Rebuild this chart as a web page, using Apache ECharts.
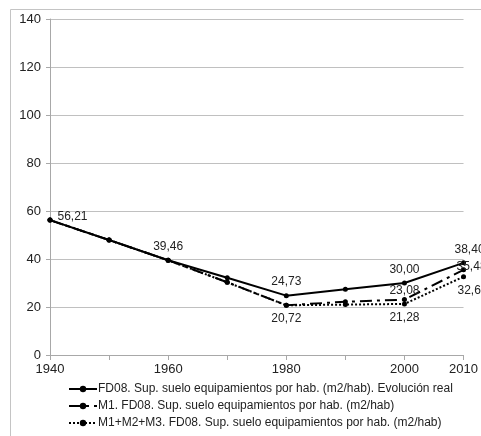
<!DOCTYPE html>
<html lang="es">
<head>
    <meta charset="UTF-8">
    <title>Sup. suelo equipamientos</title>
    <style>
        html,body{ margin:0; padding:0; background:#fff; }
        #chart{ width:481px; height:436px; }
    </style>
    <script src="https://cdn.jsdelivr.net/npm/echarts@6/dist/echarts.min.js"></script>
</head>
<body>
<div id="chart"></div>
<script>
    var years = [1940, 1950, 1960, 1970, 1980, 1990, 2000, 2010];
    var real  = [56.21, 47.9, 39.46, 32.2, 24.73, 27.4, 30.00, 38.40];
    var m1    = [56.21, 47.9, 39.46, 30.3, 20.72, 22.2, 23.08, 35.48];
    var m123  = [56.21, 47.9, 39.46, 30.3, 20.72, 21.0, 21.28, 32.62];
    var names = [
        'FD08. Sup. suelo equipamientos por hab. (m2/hab). Evolución real',
        'M1. FD08. Sup. suelo equipamientos por hab. (m2/hab)',
        'M1+M2+M3. FD08. Sup. suelo equipamientos por hab. (m2/hab)'
    ];
    var xLabels = [1940, 1960, 1980, 2000, 2010];

    // which points get a value label, and where
    var labelsReal = {0: {position: 'right', offset: [0, -3]}, 2: {position: 'top'}, 4: {position: 'top'}, 6: {position: 'top'}, 7: {position: 'top', offset: [6, 0]}};
    var labelsM1   = {4: {position: 'bottom'}, 6: {position: 'top', distance: 0}, 7: {position: 'top', offset: [8, 10]}};
    var labelsM123 = {6: {position: 'bottom'}, 7: {position: 'bottom', offset: [9, 0]}};

    function fmt(v){ return v.toFixed(2).replace('.', ','); }

    function build(vals, labels){
        return vals.map(function (v, i) {
            var item = {value: [years[i], v]};
            if (labels[i]) {
                item.label = Object.assign({show: true}, labels[i]);
            }
            return item;
        });
    }

    function lineSeries(name, vals, labels, dash){
        return {
            name: name,
            type: 'line',
            data: build(vals, labels),
            symbol: 'circle',
            symbolSize: 5,
            itemStyle: {color: '#000'},
            lineStyle: {color: '#000', width: 2, type: dash},
            label: {
                show: false,
                color: '#222',
                fontSize: 12,
                fontFamily: 'Liberation Sans',
                formatter: function (p) { return fmt(p.value[1]); }
            },
            emphasis: {disabled: true},
            animation: false
        };
    }

    var chart = echarts.init(document.getElementById('chart'));
    var option = {
        backgroundColor: '#fff',
        textStyle: {fontFamily: 'Liberation Sans'},
        graphic: [{
            type: 'rect',
            left: 8, top: 7,
            shape: {width: 520, height: 480},
            style: {fill: 'none', stroke: '#c4c4c4', lineWidth: 1}
        }],
        grid: {left: 50, right: 17, top: 19, bottom: 81},
        legend: {
            orient: 'vertical',
            left: 63, top: 378,
            itemGap: 5,
            itemWidth: 28,
            itemHeight: 8,
            textStyle: {color: '#222', fontSize: 12, fontFamily: 'Liberation Sans', padding: [0, 0, 0, -4]},
            data: names
        },
        xAxis: {
            type: 'value',
            min: 1940, max: 2010, interval: 10,
            axisLine: {lineStyle: {color: '#a8a8a8'}},
            axisTick: {show: true, length: 5, lineStyle: {color: '#a8a8a8'}},
            axisLabel: {
                color: '#222', fontSize: 13, margin: 8,
                showMaxLabel: true,
                formatter: function (v) { return xLabels.indexOf(v) >= 0 ? String(v) : ''; }
            },
            splitLine: {show: false}
        },
        yAxis: {
            type: 'value',
            min: 0, max: 140, interval: 20,
            axisLine: {show: true, lineStyle: {color: '#a8a8a8'}},
            axisTick: {show: true, length: 4, lineStyle: {color: '#a8a8a8'}},
            axisLabel: {color: '#222', fontSize: 13, margin: 9},
            splitLine: {lineStyle: {color: '#c0c0c0', width: 1}}
        },
        series: [
            lineSeries(names[0], real, labelsReal, 'solid'),
            lineSeries(names[1], m1, labelsM1, [12, 5, 3, 5]),
            lineSeries(names[2], m123, labelsM123, [2, 2])
        ]
    };
    chart.setOption(option);
</script>
</body>
</html>
